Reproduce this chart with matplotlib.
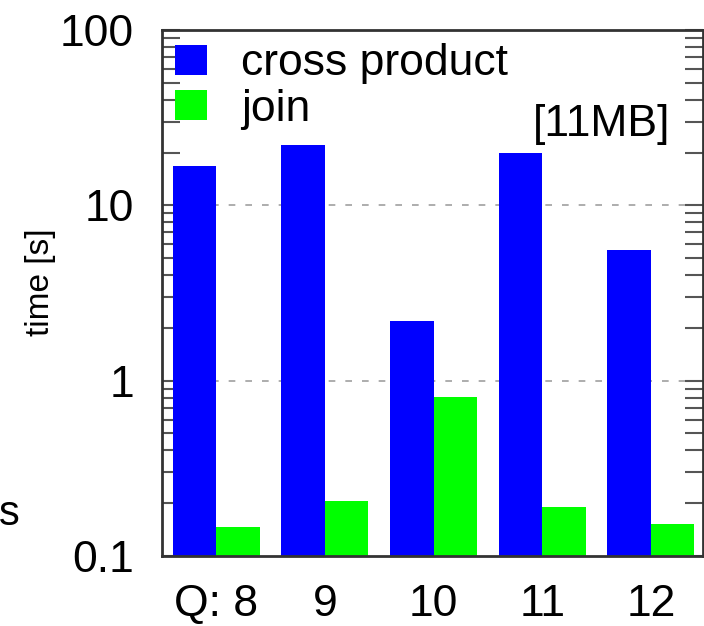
import matplotlib.pyplot as plt
import numpy as np
from matplotlib.ticker import LogLocator, FixedLocator, NullFormatter

plt.rcParams['font.family'] = ['Liberation Sans', 'DejaVu Sans']

queries = ["Q: 8", "9", "10", "11", "12"]
cross_product = [16.8, 22.1, 2.19, 19.9, 5.57]
join = [0.146, 0.206, 0.81, 0.19, 0.152]
dataset = "[11MB]"

fig = plt.figure(figsize=(7.04, 6.26), dpi=100)
ax = fig.add_axes([162 / 704, 1 - 556 / 626, (703 - 162) / 704, (556 - 30) / 626])

x = np.arange(len(queries))
w = 0.4
ax.bar(x - w / 2, cross_product, w, color="#0000ff", label="cross product", zorder=2)
ax.bar(x + w / 2, join, w, color="#00ff00", label="join", zorder=2)

ax.set_yscale("log")
ax.set_ylim(0.1, 100)
ax.set_xlim(-0.5, 4.48)
ax.set_xticks(x)
ax.set_xticklabels(queries)
ax.yaxis.set_major_locator(FixedLocator([0.1, 1, 10, 100]))
ax.set_yticklabels(["0.1", "1", "10", "100"])
ax.yaxis.set_minor_locator(LogLocator(base=10, subs=np.arange(2, 10)))
ax.yaxis.set_minor_formatter(NullFormatter())

for v in [1, 10]:
    ax.axhline(v, color="#a0a0a0", lw=1.2, ls=(0, (4, 6)), zorder=1)

ax.tick_params(axis="y", which="both", direction="in", left=True, right=True,
               length=13, width=1.5, color="#555555", labelsize=32, pad=20)
ax.tick_params(axis="x", length=0, labelsize=32, pad=20)
for s in ax.spines.values():
    s.set_linewidth(2)
    s.set_color("#333333")

fig.text(40 / 704, 1 - 282 / 626, "time [s]", rotation=90, ha="center",
         va="center", fontsize=24)

ax.legend(loc="upper left", frameon=False, fontsize=32, handlelength=0.72,
          handleheight=0.65, handletextpad=0.75, labelspacing=0.1,
          borderaxespad=0.1, borderpad=0.2)
ax.text(0.94, 0.82, dataset, transform=ax.transAxes, ha="right", va="center",
        fontsize=32)

fig.text(-1 / 704, 1 - 514 / 626, "s", ha="left", va="center", fontsize=30)

fig.savefig("out.png", dpi=100)
